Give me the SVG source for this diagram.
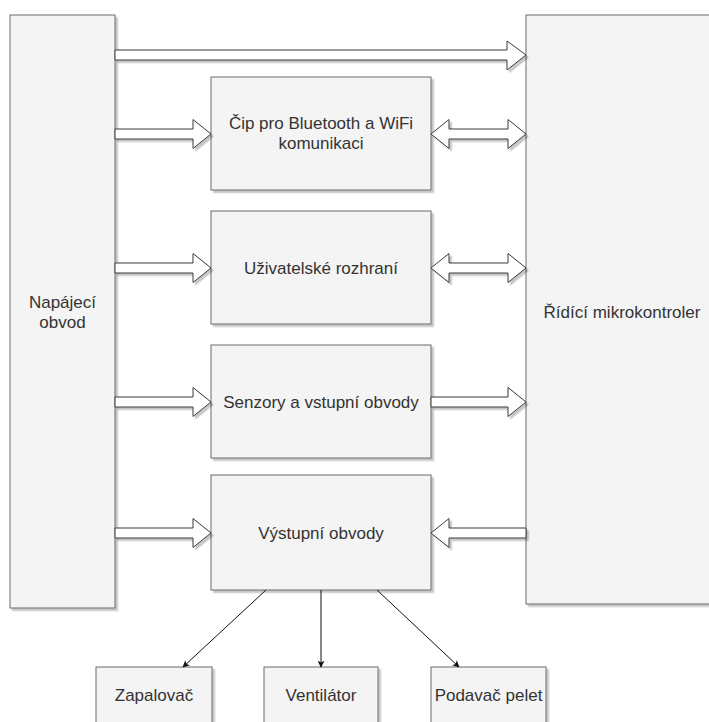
<svg xmlns="http://www.w3.org/2000/svg" width="709" height="722" viewBox="0 0 709 722">
  <style>
    .box { fill: #f4f4f4; stroke: #6b6b6b; stroke-width: 1; filter: url(#shadow); }
    .lbl { font-family: "Liberation Sans", Arial, sans-serif; font-size: 17px; fill: #333; text-anchor: middle; dominant-baseline: central; }
    .barrow { fill: #ffffff; stroke: #3a3a3a; stroke-width: 1; stroke-linejoin: miter; filter: url(#shadow); }
    .line { fill: none; stroke: #111; stroke-width: 1; marker-end: url(#tip); }
  </style>
  <defs>
    <filter id="shadow" x="-10%" y="-10%" width="130%" height="130%">
      <feDropShadow dx="2.5" dy="2.5" stdDeviation="0.6" flood-color="#000" flood-opacity="0.22"/>
    </filter>
    <marker id="tip" viewBox="0 0 10 10" refX="9" refY="5" markerWidth="7" markerHeight="7" markerUnits="userSpaceOnUse" orient="auto">
      <path d="M0,0 L10,5 L0,10 L2.5,5 Z" fill="#111"/>
    </marker>
  </defs>

  <!-- power supply -->
  <g id="napajeci-obvod">
    <rect class="box" x="10" y="15" width="105" height="593"/>
    <text class="lbl" x="62.5" y="302">Napájecí</text>
    <text class="lbl" x="62.5" y="322">obvod</text>
  </g>

  <!-- microcontroller -->
  <g id="ridici-mikrokontroler">
    <rect class="box" x="526" y="15" width="200" height="589"/>
    <text class="lbl" x="622" y="312">Řídící mikrokontroler</text>
  </g>

  <g id="cip-bluetooth-wifi">
    <rect class="box" x="211" y="77" width="220" height="113"/>
    <text class="lbl" x="321" y="123">Čip pro Bluetooth a WiFi</text>
    <text class="lbl" x="321" y="143">komunikaci</text>
  </g>

  <g id="uzivatelske-rozhrani">
    <rect class="box" x="211" y="211" width="220" height="113"/>
    <text class="lbl" x="321" y="268">Uživatelské rozhraní</text>
  </g>

  <g id="senzory">
    <rect class="box" x="211" y="345" width="220" height="113"/>
    <text class="lbl" x="321" y="402">Senzory a vstupní obvody</text>
  </g>

  <g id="vystupni-obvody">
    <rect class="box" x="211" y="475" width="220" height="115"/>
    <text class="lbl" x="321" y="533">Výstupní obvody</text>
  </g>

  <g id="zapalovac">
    <rect class="box" x="96" y="667" width="116" height="70"/>
    <text class="lbl" x="154" y="695">Zapalovač</text>
  </g>

  <g id="ventilator">
    <rect class="box" x="264" y="667" width="114" height="70"/>
    <text class="lbl" x="321" y="695">Ventilátor</text>
  </g>

  <g id="podavac-pelet">
    <rect class="box" x="431" y="667" width="115" height="70"/>
    <text class="lbl" x="488.5" y="695">Podavač pelet</text>
  </g>

  <g id="connectors">
    <!-- power -> microcontroller -->
    <path class="barrow" d="M115,50 L507,50 L507,41 L526,55 L507,70 L507,60 L115,60 Z"/>
    <!-- power -> blocks -->
    <path class="barrow" d="M115,129 L193,129 L193,119.5 L211,134 L193,148.5 L193,139 L115,139 Z"/>
    <path class="barrow" d="M115,263 L193,263 L193,253.5 L211,268 L193,282.5 L193,273 L115,273 Z"/>
    <path class="barrow" d="M115,397 L193,397 L193,387.5 L211,402 L193,416.5 L193,407 L115,407 Z"/>
    <path class="barrow" d="M115,528 L193,528 L193,518.5 L211,533 L193,547.5 L193,538 L115,538 Z"/>
    <!-- blocks <-> microcontroller -->
    <path class="barrow" d="M431,134 L449,119.5 L449,129 L508,129 L508,119.5 L526,134 L508,148.5 L508,139 L449,139 L449,148.5 Z"/>
    <path class="barrow" d="M431,268 L449,253.5 L449,263 L508,263 L508,253.5 L526,268 L508,282.5 L508,273 L449,273 L449,282.5 Z"/>
    <path class="barrow" d="M431,397 L508,397 L508,387.5 L526,402 L508,416.5 L508,407 L431,407 Z"/>
    <path class="barrow" d="M526,528 L449,528 L449,518.5 L431,533 L449,547.5 L449,538 L526,538 Z"/>
    <!-- outputs -->
    <line class="line" x1="266" y1="590" x2="183" y2="667"/>
    <line class="line" x1="321" y1="590" x2="321" y2="667"/>
    <line class="line" x1="377" y1="590" x2="459" y2="667"/>
  </g>
</svg>
